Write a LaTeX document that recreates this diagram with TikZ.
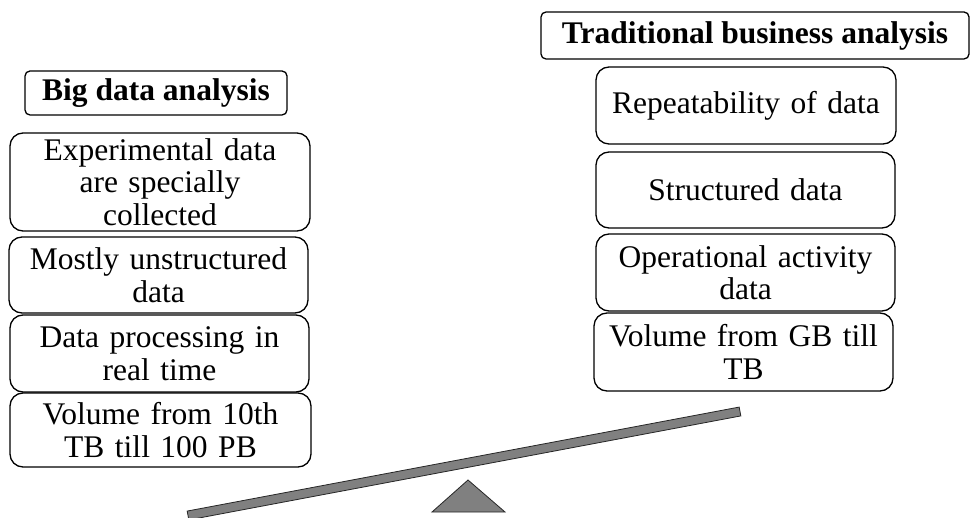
\documentclass[tikz,border=0pt]{standalone}
\usepackage{fontspec}
\setmainfont{Liberation Serif}
\usetikzlibrary{calc}
\begin{document}
\begin{tikzpicture}[x=1pt,y=1pt,
  titlebox/.style={draw=black, line width=1.3pt, rounded corners=5pt, fill=white,
    inner sep=0pt, align=center, font=\fontsize{31.5}{32.5}\selectfont\bfseries},
  itembox/.style={draw=black, line width=1.3pt, rounded corners=13pt, fill=white,
    inner sep=0pt, align=center, font=\fontsize{31.5}{32.5}\selectfont},
  plank/.style={draw=black!85, line width=0.8pt, fill=black!50},
]
\useasboundingbox (0,0) rectangle (971,517);
% y coordinate = 517 - pixel y
% left column
\node[titlebox, minimum width=262pt, minimum height=44pt] (lt) at (156,424) {Big data analysis};
\node[itembox, minimum width=300pt, minimum height=98pt, text width=290pt] (l1) at (160,335) {Experimental data\\are specially\\collected};
\node[itembox, minimum width=299pt, minimum height=76pt, text width=290pt] (l2) at (158.5,242) {Mostly unstructured\\data};
\node[itembox, minimum width=299pt, minimum height=77pt, text width=290pt] (l3) at (159.5,163.5) {Data processing in\\real time};
\node[itembox, minimum width=301pt, minimum height=74pt, text width=290pt] (l4) at (160.5,87) {Volume from 10th\\TB till 100 PB};
% right column
\node[titlebox, minimum width=428pt, minimum height=47pt] (rt) at (755,481.5) {Traditional business analysis};
\node[itembox, minimum width=300pt, minimum height=77pt, text width=290pt] (r1) at (746,411.5) {Repeatability of data};
\node[itembox, minimum width=299pt, minimum height=76pt, text width=290pt] (r2) at (745.5,327) {Structured data};
\node[itembox, minimum width=299pt, minimum height=77pt, text width=290pt] (r3) at (745.5,244.5) {Operational activity\\data};
\node[itembox, minimum width=299pt, minimum height=78pt, text width=290pt] (r4) at (743.5,165) {Volume from GB till\\TB};
% seesaw
\coordinate (pl) at (188,1.5);
\coordinate (pr) at (740,105.5);
\draw[plank] ($(pl)!4.5pt!90:(pr)$) -- ($(pr)!4.5pt!-90:(pl)$) -- ($(pr)!4.5pt!90:(pl)$) -- ($(pl)!4.5pt!-90:(pr)$) -- cycle;
\draw[plank] (432,5) -- (468,37) -- (505,5) -- cycle;
\end{tikzpicture}
\end{document}
